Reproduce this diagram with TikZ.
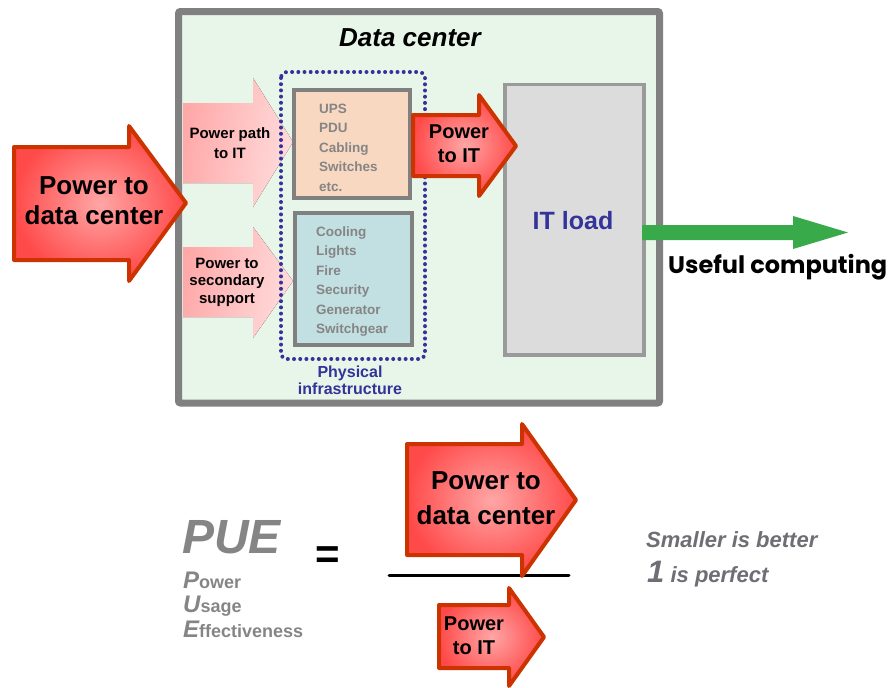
\documentclass[tikz,border=0pt]{standalone}
\usepackage{fontspec}
\setmainfont{Liberation Sans}
\newfontfamily\popfont{Poppins}
\definecolor{dcgreen}{HTML}{E8F5E9}
\definecolor{dcgray}{HTML}{808080}
\definecolor{arrred}{HTML}{CC3300}
\definecolor{peach}{HTML}{F8D8C0}
\definecolor{lblue}{HTML}{C2DFE2}
\definecolor{itgray}{HTML}{DCDCDC}
\definecolor{itborder}{HTML}{9A9A9A}
\definecolor{dblue}{HTML}{333399}
\definecolor{txtgray}{HTML}{858585}
\definecolor{ggreen}{HTML}{38AA4A}
\definecolor{notegray}{HTML}{6E6E74}
\definecolor{redin}{HTML}{FFA6A6}
\definecolor{redout}{HTML}{FF4A4A}
\definecolor{palel}{HTML}{FFA8A8}
\definecolor{paler}{HTML}{FFDCDC}
\newcommand{\fs}[2]{\fontsize{#1}{#2}\selectfont}
\tikzset{
  redarrow/.style={draw=arrred, line width=4pt, line join=round,
    inner color=redin, outer color=redout},
  palearrow/.style={left color=palel, right color=paler, shading angle=80},
  listbox/.style={draw=dcgray, line width=3.5pt},
  arrtext/.style={align=center, inner sep=0pt, font=\bfseries},
  listtext/.style={align=left, inner sep=0pt, text=txtgray, font=\bfseries\fs{13.5}{19.5}},
}
\begin{document}
\begin{tikzpicture}[x=1pt,y=-1pt]
\useasboundingbox (0,0) rectangle (895,688);
% data center
\draw[draw=dcgray, fill=dcgreen, line width=7pt, rounded corners=2pt] (178.5,11.5) rectangle (659.5,403);
\node[inner sep=0pt, font=\bfseries\itshape\fs{26}{30}] (title) at (410,38) {Data center};
% pale arrows
\fill[palearrow] (183,103) -- (253,103) -- (253,78) -- (293,142) -- (253,207) -- (253,183) -- (183,183) -- cycle;
\node[arrtext, font=\bfseries\fs{15}{20}] (pp) at (230,143) {Power path\\to IT};
\fill[palearrow] (183,247) -- (253,247) -- (253,227) -- (293,281) -- (253,338) -- (253,317) -- (183,317) -- cycle;
\node[arrtext, font=\bfseries\fs{15}{17.5}] (ps) at (227,282) {Power to\\secondary\\support};
% physical infrastructure
\draw[dblue, line width=4pt, line cap=round, dash pattern=on 0pt off 6.2pt, rounded corners=6pt] (281,72) rectangle (425,359);
\node[align=center, inner sep=0pt, text=dblue, font=\bfseries\fs{16}{17}] (phys) at (350,380) {Physical\\infrastructure};
\draw[listbox, fill=peach] (294,90) rectangle (410,198);
\node[listtext, anchor=north west] (ups) at (319,103.5) {UPS\\PDU\\Cabling\\Switches\\etc.};
\draw[listbox, fill=lblue] (295,213) rectangle (412,345);
\node[listtext, anchor=north west] (cool) at (316,226.5) {Cooling\\Lights\\Fire\\Security\\Generator\\Switchgear};
% IT load
\draw[draw=itborder, fill=itgray, line width=3.5pt] (505,84.5) rectangle (644,355);
\node[inner sep=0pt, text=dblue, font=\bfseries\fs{25}{30}] (it) at (573,221) {IT load};
% big input arrow
\draw[redarrow] (14,147) -- (129,147) -- (129,126) -- (186,203) -- (129,281) -- (129,260) -- (14,260) -- cycle;
\node[arrtext, font=\bfseries\fs{26}{30}] (pdc) at (94,201) {Power to\\data center};
% power to IT arrow
\draw[redarrow] (413,115) -- (479,115) -- (479,95) -- (516,146) -- (479,196) -- (479,176) -- (413,176) -- cycle;
\node[arrtext, font=\bfseries\fs{20}{24}] (pit) at (459,144) {Power\\to IT};
% useful computing
\fill[ggreen] (642,225) -- (793,225) -- (793,216) -- (848,232.5) -- (793,249) -- (793,240) -- (642,240) -- cycle;
\node[anchor=base west, inner sep=0pt, font=\popfont\bfseries\fs{24}{28}] (uc) at (668,273) {Useful computing};
% PUE
\node[anchor=base west, inner sep=0pt, text=txtgray, font=\bfseries\itshape\fs{48}{52}] (pue) at (182,553) {PUE};
\node[anchor=base west, inner sep=0pt, text=txtgray, font=\bfseries\fs{18}{20}] (pw) at (183,588) {{\itshape\fs{24}{26}P}ower};
\node[anchor=base west, inner sep=0pt, text=txtgray, font=\bfseries\fs{18}{20}] (us) at (183,612) {{\itshape\fs{24}{26}U}sage};
\node[anchor=base west, inner sep=0pt, text=txtgray, font=\bfseries\fs{18}{20}] (ef) at (183,637) {{\itshape\fs{24}{26}E}ffectiveness};
\node[inner sep=0pt, font=\bfseries\fs{42}{44}] (eq) at (328,558) {=};
% fraction
\coordinate (fl) at (389,575);
\coordinate (fr) at (569,575);
\draw[line width=3pt, line cap=round] (fl) -- (fr);
\draw[redarrow] (407,444) -- (522,444) -- (522,424) -- (576,500) -- (522,576) -- (522,555) -- (407,555) -- cycle;
\node[arrtext, font=\bfseries\fs{26}{35}] (num) at (486,498) {Power to\\data center};
\draw[redarrow] (439,605) -- (509,605) -- (509,588) -- (544,637) -- (509,686) -- (509,668) -- (439,668) -- cycle;
\node[arrtext, font=\bfseries\fs{20}{24}] (den) at (474,636) {Power\\to IT};
% notes
\node[anchor=base west, inner sep=0pt, text=notegray, font=\bfseries\itshape\fs{22}{26}] (sb) at (646,547) {Smaller is better};
\node[anchor=base west, inner sep=0pt, text=notegray, font=\bfseries\itshape\fs{22}{26}] (ip) at (647,582) {{\fs{31}{33}1} is perfect};
\end{tikzpicture}
\end{document}
